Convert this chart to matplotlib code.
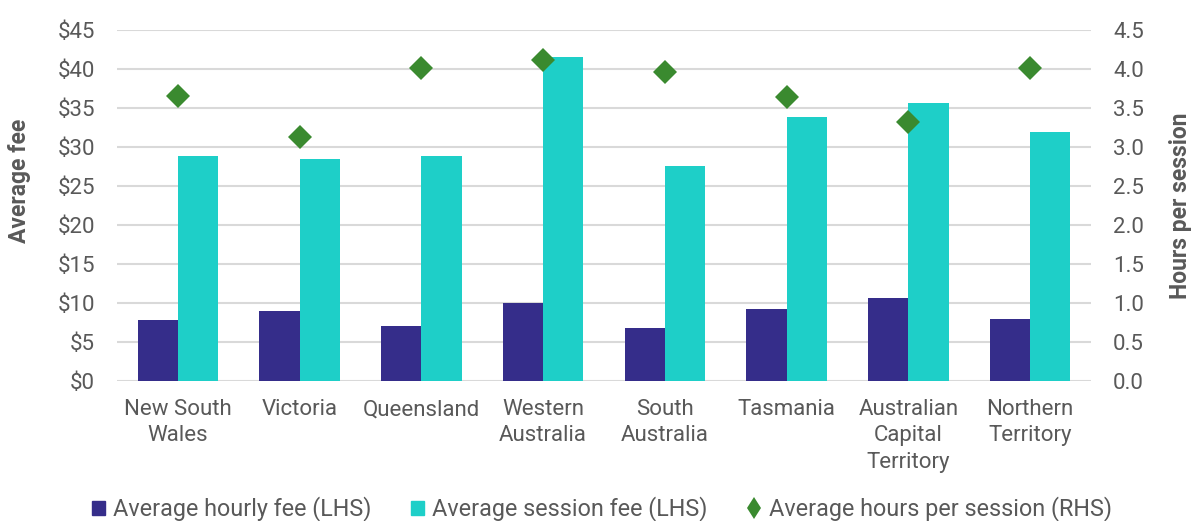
import matplotlib.pyplot as plt
from matplotlib.lines import Line2D
from matplotlib.patches import Patch
import numpy as np

plt.rcParams['font.family'] = ['Roboto', 'DejaVu Sans']

# Datos
estados = ['New South\nWales', 'Victoria', 'Queensland', 'Western\nAustralia',
           'South\nAustralia', 'Tasmania', 'Australian\nCapital\nTerritory',
           'Northern\nTerritory']
tarifa_hora = [7.8, 9.0, 7.1, 10.0, 6.8, 9.2, 10.7, 7.9]
tarifa_sesion = [28.8, 28.4, 28.8, 41.5, 27.5, 33.9, 35.6, 31.9]
horas_sesion = [3.66, 3.13, 4.01, 4.12, 3.96, 3.64, 3.32, 4.01]

c_hora = '#352D8A'
c_sesion = '#1ECFC8'
c_horas = '#3A8A2F'
gris = '#595959'
fs = 16

fig = plt.figure(figsize=(11.92, 5.21), dpi=100)
ax = fig.add_axes([117 / 1192, 1 - 381 / 521, 974 / 1192, 351 / 521])
ax2 = ax.twinx()

x = np.arange(len(estados))
w = 0.33
ax.bar(x - w / 2, tarifa_hora, w, color=c_hora, zorder=3)
ax.bar(x + w / 2, tarifa_sesion, w, color=c_sesion, zorder=3)
ax2.plot(x, horas_sesion, linestyle='none', marker='D', ms=12, mew=0,
         color=c_horas, zorder=4)

ax.set_xlim(-0.5, len(estados) - 0.5)
ax.set_ylim(0, 45)
ax2.set_ylim(0, 4.5)
ax.set_yticks(np.arange(0, 46, 5))
ax.set_yticklabels(['$%d' % v for v in range(0, 46, 5)])
ax2.set_yticks(np.arange(0, 4.6, 0.5))
ax2.set_yticklabels(['%.1f' % v for v in np.arange(0, 4.6, 0.5)])
ax.set_xticks(x)
ax.set_xticklabels(estados, linespacing=1.33, fontsize=16.4)

ax.grid(axis='y', color='#D9D9D9', linewidth=1.5, zorder=0)
for a in (ax, ax2):
    for s in a.spines.values():
        s.set_visible(False)
    a.tick_params(length=0, labelsize=fs, labelcolor=gris)
ax.tick_params(axis='x', pad=13)
ax.tick_params(axis='y', pad=16)
ax2.tick_params(axis='y', pad=16)

ax.set_ylabel('Average fee', fontsize=16.5, fontweight='bold', color=gris)
ax.yaxis.set_label_coords(-0.088, 0.57)
ax2.set_ylabel('Hours per session', fontsize=16.5, fontweight='bold', color=gris)
ax2.yaxis.set_label_coords(1.08, 0.5)

handles = [Patch(color=c_hora), Patch(color=c_sesion),
           Line2D([], [], linestyle='none', marker='d', ms=11.5, mew=0, color=c_horas)]
fig.legend(handles,
           ['Average hourly fee (LHS)', 'Average session fee (LHS)',
            'Average hours per session (RHS)'],
           loc='center', bbox_to_anchor=(0.505, 0.023), ncol=3, frameon=False,
           fontsize=16.8, labelcolor=gris, handlelength=0.55, handleheight=0.55,
           handletextpad=0.35, columnspacing=1.7, borderpad=0)

plt.savefig('out.png', dpi=100)
